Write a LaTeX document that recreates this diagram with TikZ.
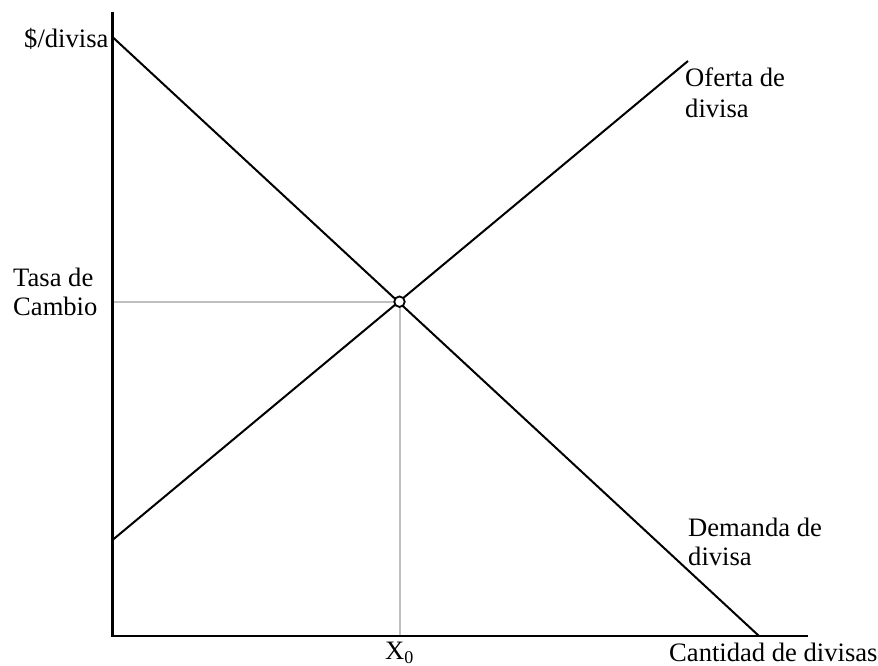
\documentclass[tikz,border=0pt]{standalone}
\usepackage{fontspec}
\setmainfont{Liberation Serif}
\begin{document}
\begin{tikzpicture}[x=1pt,y=-1pt,
  axis/.style={line width=2.2pt,black},
  curve/.style={line width=2pt,black},
  guide/.style={line width=2pt,black!25},
  lbl/.style={anchor=base west,inner sep=0pt,font=\fontsize{26.6}{29}\selectfont,align=left}]
\useasboundingbox (0,0) rectangle (878,666);
\coordinate (O) at (112.5,636);
\coordinate (ytop) at (112.5,12);
\coordinate (xend) at (808,636);
\coordinate (dA) at (112.5,37);
\coordinate (dB) at (759,636);
\coordinate (sA) at (112.5,540);
\coordinate (sB) at (688,61);
\coordinate (yE) at (112.5,301.7);
\coordinate (xE) at (399.5,636);
\draw[guide] (yE) -- (399.5,301.7) -- (xE);
\draw[axis] (ytop) -- (O) -- (xend);
\draw[curve] (dA) -- (dB);
\draw[curve] (sA) -- (sB);
\node[circle,draw,line width=1.8pt,fill=white,minimum size=10.5pt,inner sep=0pt] (E) at (399.5,301.7) {};
\node[lbl] (ylab) at (24,47.5) {\$/divisa};
\node[lbl] (tasa) at (13,315) {Tasa de\\[-0.5pt]Cambio};
\node[lbl] (of) at (685,117.3) {Oferta de\\[2pt]divisa};
\node[lbl] (dem) at (688,565.7) {Demanda de\\[0.5pt]divisa};
\node[lbl] (xlab) at (669,661.7) {Cantidad de divisas};
\node[lbl] (x0) at (385,659.5) {X\raisebox{-4pt}{\fontsize{18}{20}\selectfont 0}};
\end{tikzpicture}
\end{document}
